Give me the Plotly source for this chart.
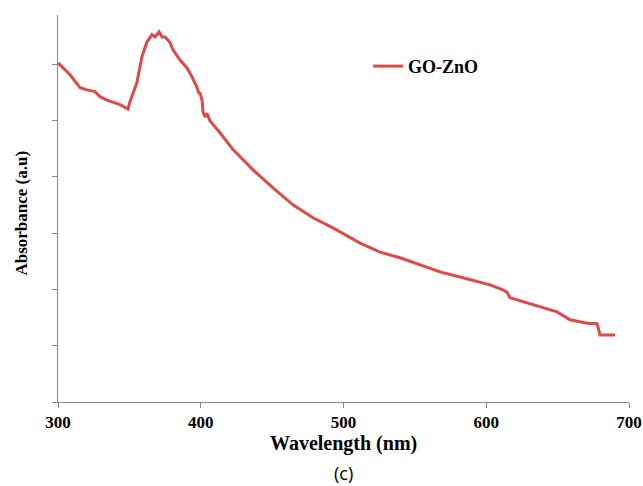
import plotly.graph_objects as go

# UV-Vis absorbance spectrum of GO-ZnO
wavelength_nm = [
    300.0, 308.4, 315.4, 320.3, 325.9, 329.4, 334.3, 343.4, 349.0, 350.4,
    355.3, 358.8, 362.3, 365.8, 368.0, 370.1, 370.8, 372.9, 375.0, 378.5,
    380.6, 385.5, 390.4, 393.9, 397.4, 398.8, 399.5, 400.9, 401.6, 403.0,
    404.4, 406.5, 413.5, 422.6, 436.6, 450.6, 464.6, 478.6, 492.6, 511.6,
    525.6, 539.6, 553.6, 567.6, 581.6, 602.6, 611.7, 614.5, 616.6, 625.7,
    637.6, 649.6, 658.7, 665.7, 670.6, 677.6, 678.3, 679.7, 690.2,
]
absorbance = [
    6.02, 5.81, 5.58, 5.54, 5.51, 5.42, 5.36, 5.28, 5.20, 5.33,
    5.67, 6.13, 6.39, 6.52, 6.48, 6.55, 6.57, 6.48, 6.48, 6.38,
    6.25, 6.07, 5.93, 5.77, 5.58, 5.47, 5.49, 5.36, 5.15, 5.06,
    5.12, 4.99, 4.78, 4.48, 4.12, 3.80, 3.50, 3.27, 3.09, 2.82,
    2.66, 2.56, 2.43, 2.31, 2.22, 2.08, 1.99, 1.95, 1.85, 1.78,
    1.69, 1.60, 1.46, 1.42, 1.40, 1.39, 1.33, 1.19, 1.19,
]
x_ticks = [300, 400, 500, 600, 700]
y_ticks = [0, 1, 2, 3, 4, 5, 6]

serif = "Liberation Serif"
axis_grey = "#888888"

fig = go.Figure()
fig.add_trace(go.Scatter(
    x=wavelength_nm, y=absorbance, mode="lines", name="<b>GO-ZnO</b>",
    line=dict(color="#DC4A4A", width=3),
))

fig.update_layout(
    width=643, height=486,
    margin=dict(l=58, r=14, t=15, b=84, autoexpand=False),
    paper_bgcolor="white", plot_bgcolor="white",
    showlegend=True,
    legend=dict(
        x=0.543, y=0.915, xanchor="left", yanchor="top",
        font=dict(family=serif, size=18, color="black"),
        bgcolor="rgba(0,0,0,0)",
    ),
    xaxis=dict(
        range=[300, 700], tickvals=x_ticks,
        ticktext=[f"<b>{t}</b>" for t in x_ticks],
        showline=True, linecolor=axis_grey, linewidth=1,
        ticks="outside", ticklen=5, tickcolor=axis_grey,
        showgrid=False, zeroline=False, automargin=False,
        tickfont=dict(family=serif, size=17, color="black"),
    ),
    yaxis=dict(
        range=[0, 6.87], tickvals=y_ticks, showticklabels=False,
        showline=True, linecolor=axis_grey, linewidth=1,
        ticks="outside", ticklen=5, tickcolor=axis_grey,
        showgrid=False, zeroline=False, automargin=False,
    ),
    annotations=[
        dict(text="<b>Wavelength (nm)</b>", xref="paper", yref="paper",
             x=0.5, y=-0.108, xanchor="center", yanchor="middle",
             showarrow=False, font=dict(family=serif, size=20, color="black")),
        dict(text="<b>Absorbance (a.u)</b>", xref="paper", yref="paper",
             x=-0.063, y=0.487, xanchor="center", yanchor="middle",
             textangle=-90, showarrow=False,
             font=dict(family=serif, size=17, color="black")),
        dict(text="(c)", xref="paper", yref="paper",
             x=0.5, y=-0.183, xanchor="center", yanchor="middle",
             showarrow=False, font=dict(family="Open Sans", size=18, color="black")),
    ],
)

fig.write_html("out.html")
